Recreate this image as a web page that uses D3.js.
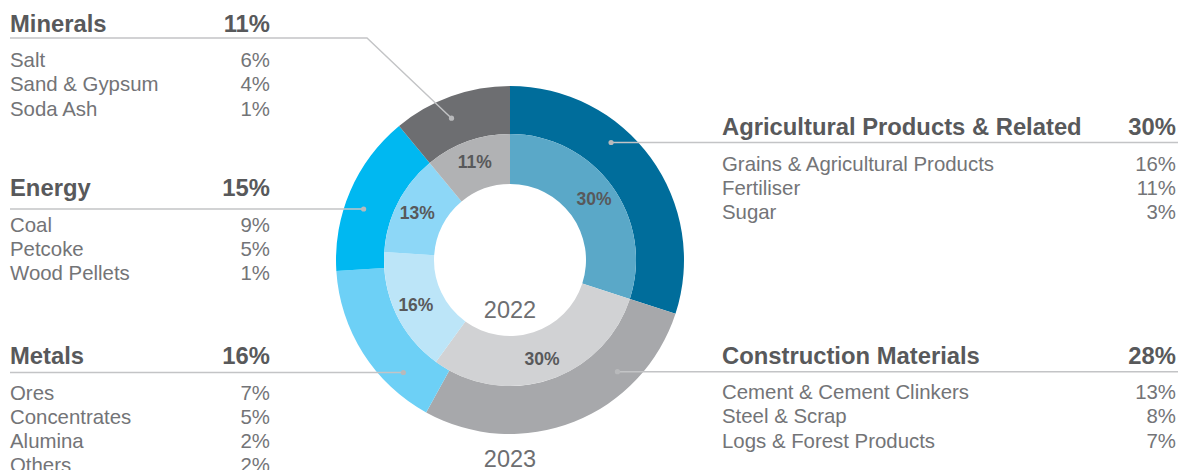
<!DOCTYPE html>
<html>
<head>
<meta charset="utf-8">
<script src="https://cdn.jsdelivr.net/npm/d3@7"></script>
<style>
  html, body { margin: 0; padding: 0; background: #fff; }
  svg { display: block; font-family: "Helvetica Neue", Helvetica, Arial, "Liberation Sans", sans-serif; }
</style>
</head>
<body>
<svg id="chart" width="1178" height="470"></svg>
<script>
  // categories in ring order (clockwise from 12 o'clock)
  const categories = ["Agricultural Products & Related", "Construction Materials", "Metals", "Energy", "Minerals"];
  const share2023 = [30, 28, 16, 15, 11];
  const share2022 = [30, 30, 16, 13, 11];
  const outerColors = ["#006d9b", "#a7a8ab", "#6dd0f6", "#00b8f1", "#6d6e71"];
  const innerColors = ["#5aa8c8", "#d1d2d4", "#bce5f8", "#8dd7f7", "#b1b2b4"];

  const agriItems = ["Grains & Agricultural Products", "Fertiliser", "Sugar"];
  const agriValues = [16, 11, 3];
  const constructionItems = ["Cement & Cement Clinkers", "Steel & Scrap", "Logs & Forest Products"];
  const constructionValues = [13, 8, 7];
  const metalsItems = ["Ores", "Concentrates", "Alumina", "Others"];
  const metalsValues = [7, 5, 2, 2];
  const energyItems = ["Coal", "Petcoke", "Wood Pellets"];
  const energyValues = [9, 5, 1];
  const mineralsItems = ["Salt", "Sand & Gypsum", "Soda Ash"];
  const mineralsValues = [6, 4, 1];

  const yearLabels = ["2022", "2023"];

  const svg = d3.select("#chart");
  const cx = 510, cy = 260;
  const rHole = 76, rMid = 126, rOuter = 174, rDot = 155;

  const pie = d3.pie().sort(null).value((d) => d);
  const outerArc = d3.arc().innerRadius(rMid).outerRadius(rOuter);
  const innerArc = d3.arc().innerRadius(rHole).outerRadius(rMid);
  const labelArc = d3.arc().innerRadius(rHole + 3).outerRadius(rMid + 3);

  const donut = svg.append("g").attr("transform", `translate(${cx},${cy})`);
  const outerData = pie(share2023);
  const innerData = pie(share2022);

  donut.selectAll("path.outer").data(outerData).join("path")
    .attr("class", "outer")
    .attr("d", outerArc)
    .attr("fill", (d, i) => outerColors[i]);
  donut.selectAll("path.inner").data(innerData).join("path")
    .attr("class", "inner")
    .attr("d", innerArc)
    .attr("fill", (d, i) => innerColors[i]);

  donut.selectAll("text.inner-label").data(innerData).join("text")
    .attr("class", "inner-label")
    .attr("transform", (d) => `translate(${labelArc.centroid(d)})`)
    .attr("text-anchor", "middle")
    .attr("dy", "0.36em")
    .attr("fill", "#58595b")
    .style("font-size", "17.5px")
    .style("font-weight", "bold")
    .text((d) => `${d.data}%`);

  svg.append("text").attr("x", cx).attr("y", 318).attr("text-anchor", "middle")
    .attr("fill", "#6d6e71").style("font-size", "23.5px").text(yearLabels[0]);
  svg.append("text").attr("x", cx).attr("y", 467).attr("text-anchor", "middle")
    .attr("fill", "#6d6e71").style("font-size", "23.5px").text(yearLabels[1]);

  // legend blocks
  const blocks = [
    { idx: 4, side: "left", base: 31.5, lineY: 38, items: mineralsItems, values: mineralsValues, bend: 367 },
    { idx: 3, side: "left", base: 196, lineY: 209, items: energyItems, values: energyValues },
    { idx: 2, side: "left", base: 364, lineY: 372.5, items: metalsItems, values: metalsValues },
    { idx: 0, side: "right", base: 135, lineY: 142.5, items: agriItems, values: agriValues },
    { idx: 1, side: "right", base: 363.5, lineY: 371.7, items: constructionItems, values: constructionValues },
  ];

  const lineColor = "#c3c4c6";
  const leaders = svg.append("g");
  const legend = svg.append("g");

  blocks.forEach((b) => {
    const left = b.side === "left";
    const xText = left ? 10 : 722;
    const xValue = left ? 270 : 1176;

    const g = legend.append("g");
    g.append("text").attr("x", xText).attr("y", b.base)
      .attr("fill", "#58595b").style("font-size", "23.8px").style("font-weight", "bold")
      .text(categories[b.idx]);
    g.append("text").attr("x", xValue).attr("y", b.base).attr("text-anchor", "end")
      .attr("fill", "#58595b").style("font-size", "23.8px").style("font-weight", "bold")
      .text(`${share2023[b.idx]}%`);

    b.items.forEach((name, j) => {
      const y = b.base + 35.5 + j * 24.3;
      g.append("text").attr("x", xText).attr("y", y)
        .attr("fill", "#737477").style("font-size", "20.4px").text(name);
      g.append("text").attr("x", xValue).attr("y", y).attr("text-anchor", "end")
        .attr("fill", "#737477").style("font-size", "20.4px").text(`${b.values[j]}%`);
    });

    // leader: dot on the outer ring where the rule meets it
    let dot;
    if (b.bend) {
      const c = d3.arc().innerRadius(rDot).outerRadius(rDot).centroid(outerData[b.idx]);
      dot = [cx + c[0] - 6, cy + c[1] + 4];
      leaders.append("path")
        .attr("d", d3.line()([[10, b.lineY], [b.bend, b.lineY], dot]))
        .attr("fill", "none").attr("stroke", lineColor).attr("stroke-width", 1.4);
    } else {
      const dy = b.lineY - cy;
      const dx = Math.sqrt(rDot * rDot - dy * dy);
      dot = [left ? cx - dx : cx + dx, b.lineY];
      leaders.append("line")
        .attr("x1", left ? 10 : dot[0]).attr("x2", left ? dot[0] : 1178)
        .attr("y1", b.lineY).attr("y2", b.lineY)
        .attr("stroke", lineColor).attr("stroke-width", 1.4);
    }
    leaders.append("circle").attr("cx", dot[0]).attr("cy", dot[1]).attr("r", 2.6).attr("fill", "#b8b9bb");
  });
</script>
</body>
</html>
